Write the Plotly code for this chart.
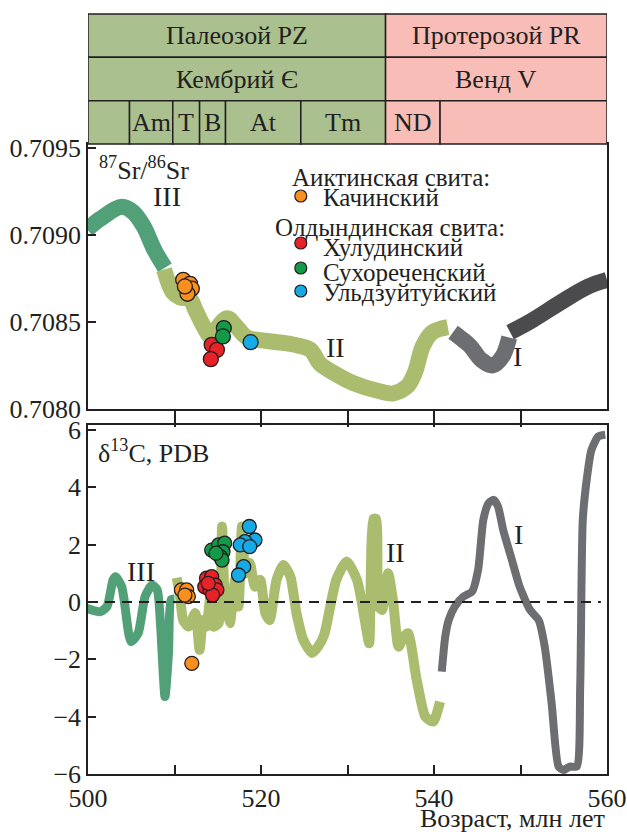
import plotly.graph_objects as go

# ---------------- data ----------------
# Sr isotope curves (age, Ma ; 87Sr/86Sr)
sr_III_age = [499.9, 501.4, 503.9, 505.2, 506.4, 507.7, 508.9]
sr_III_val = [0.70903, 0.70909, 0.70916, 0.70913, 0.70905, 0.70891, 0.70881]

sr_II_age = [508.8, 509.8, 510.6, 511.8, 512.4, 513.3, 514.3, 515.0, 516.1, 517.2, 518.4,
             520.7, 523.7, 525.7, 526.8, 528.3, 530.6, 533.8, 535.3, 536.9, 537.8, 538.7,
             539.8, 541.6]
sr_II_val = [0.70880, 0.70867, 0.70864, 0.70863, 0.70857, 0.70848, 0.70841, 0.70847, 0.70852,
             0.70847, 0.70841, 0.70839, 0.70837, 0.70834, 0.70826, 0.70821, 0.70815, 0.70810,
             0.70809, 0.70813, 0.70821, 0.70836, 0.70844, 0.70847]

sr_Ia_age = [542.2, 543.0, 544.2, 545.5, 546.8, 547.9, 548.7]
sr_Ia_val = [0.70844, 0.70841, 0.70836, 0.70828, 0.70825, 0.70830, 0.70841]

sr_Ib_age = [548.8, 551.4, 554.6, 557.7, 560.0]
sr_Ib_val = [0.70844, 0.70851, 0.70861, 0.70870, 0.70874]

# Sr samples
sr_kach_age = [511.0, 511.8, 512.0, 511.5, 511.2]
sr_kach_val = [0.708741, 0.708718, 0.708690, 0.708661, 0.708703]
sr_khul_age = [514.3, 514.9, 514.2]
sr_khul_val = [0.708368, 0.708339, 0.708286]
sr_sukh_age = [515.7, 515.6]
sr_sukh_val = [0.708464, 0.708416]
sr_uldz_age = [518.8]
sr_uldz_val = [0.708383]

# Carbon isotope curves (age, Ma ; d13C permil PDB)
c_III_age = [499.85, 501.4, 502.2, 502.9, 503.2, 503.9, 504.7, 505.0, 505.8, 506.6, 507.4,
             508.0, 508.4, 508.9, 509.3, 509.6, 510.0]
c_III_val = [-0.22, -0.34, -0.16, 0.77, 0.88, 0.53, -1.09, -1.38, -1.09, 0.19, 0.59,
             0.42, -0.86, -3.30, -1.79, 0.07, 0.1]

c_II_age = [510.25, 510.6, 511.0, 511.6, 512.4, 512.9, 513.3, 513.7, 514.1, 514.5, 515.1,
            515.5, 515.8, 516.4, 517.0, 517.4, 517.8, 518.2, 518.7, 519.3, 519.9, 520.5,
            521.0, 521.8, 522.6, 523.4, 524.1, 524.9, 525.9, 526.6, 527.3, 528.7, 529.9,
            531.1, 532.0, 532.5, 533.0, 533.3, 533.6, 534.0, 534.7, 535.3, 535.9, 536.5,
            537.0, 538.0, 539.0, 539.9, 540.7]
c_II_val = [0.84, 0.3, -0.63, -0.86, -0.39, -1.67, -0.63, -0.86, 0.07, -0.86, -0.74,
            2.63, 0.19, -0.74, 0.77, -0.16, 2.63, 1.0, 1.36, 0.53, 0.77, -0.39,
            -0.63, 0.77, 1.29, 0.88, -0.39, -1.33, -1.78, -1.56, -1.15, 0.77, 1.41,
            0.77, -0.63, -1.44, 2.9, 2.9, -0.16, -0.28, 1.0, -0.05, -1.56, -1.21,
            -1.09, -2.72, -4.0, -4.17, -3.48]

c_I_age = [540.9, 541.3, 541.7, 542.4, 543.4, 544.4, 545.1, 545.7, 546.3, 546.9, 547.4,
           548.0, 549.0, 549.9, 551.1, 552.1, 552.8, 553.6, 554.4, 555.0, 555.7, 556.5,
           556.9, 557.2, 557.7, 558.2, 559.0, 559.8]
c_I_val = [-2.43, -1.21, -0.63, -0.16, 0.19, 0.36, 1.12, 2.86, 3.44, 3.56, 3.33,
           2.51, 1.47, 0.53, -0.28, -0.63, -1.56, -3.53, -5.74, -5.86, -5.74, -5.74,
           -2.95, 2.86, 4.37, 5.30, 5.77, 5.83]

# Carbon samples
c_kach_age = [510.8, 511.4, 511.6, 511.2, 512.0]
c_kach_val = [0.42, 0.42, 0.19, 0.24, -2.14]
c_khul_age = [513.7, 514.3, 513.5, 514.7, 514.1, 514.9, 514.4, 513.9]
c_khul_val = [0.83, 0.88, 0.53, 0.59, 0.42, 0.42, 0.24, 0.65]
c_sukh_age = [514.3, 515.1, 515.8, 515.6, 515.3, 515.5, 514.8]
c_sukh_val = [1.81, 1.99, 2.05, 1.75, 1.58, 1.46, 1.70]
c_uldz_age = [518.65, 519.3, 518.15, 517.6, 518.7, 518.0, 517.4]
c_uldz_val = [2.63, 2.16, 2.10, 1.99, 1.93, 1.23, 0.94]

# Stratigraphic header
eon_labels = ['Палеозой PZ', 'Протерозой PR']
period_labels = ['Кембрий Є', 'Венд V']
major_bounds = [500, 534.4, 560]
stage_labels = ['', 'Am', 'T', 'B', 'At', 'Tm', 'ND', '']
stage_bounds = [500, 504.8, 509.8, 512.9, 515.9, 524.6, 534.4, 540.7, 560]

sr_ticks = [0.7080, 0.7085, 0.7090, 0.7095]
c_ticks = [-6, -4, -2, 0, 2, 4, 6]
age_ticks = [500, 510, 520, 530, 540, 550, 560]
age_ticklabels = ['500', '', '520', '', '540', '', '560']

# ---------------- styles ----------------
FONT = 'Liberation Serif'
INK = '#231f20'
DKGREEN = '#52a078'
LTGREEN = '#aabd6e'
MGRAY = '#6d6e71'
DGRAY = '#4b4b4d'
PZ_FILL = '#aac08f'
PR_FILL = '#f8bdb6'
ORANGE = '#f7901e'
RED = '#e82229'
GREEN = '#139a48'
BLUE = '#16aae7'

fig = go.Figure()

def band(x, y, color, width, xa, ya, smooth=1.0):
    fig.add_trace(go.Scatter(x=x, y=y, mode='lines', xaxis=xa, yaxis=ya,
                             line=dict(color=color, width=width, shape='spline', smoothing=smooth),
                             showlegend=False, hoverinfo='skip'))

def pts(x, y, color, size, xa, ya, name):
    fig.add_trace(go.Scatter(x=x, y=y, mode='markers', xaxis=xa, yaxis=ya, name=name,
                             marker=dict(color=color, size=size, line=dict(color=INK, width=1.3)),
                             showlegend=False))

# top panel (Sr)
band(sr_III_age, sr_III_val, DKGREEN, 16, 'x', 'y')
band(sr_II_age, sr_II_val, LTGREEN, 16, 'x', 'y')
band(sr_Ia_age, sr_Ia_val, MGRAY, 16, 'x', 'y')
band(sr_Ib_age, sr_Ib_val, DGRAY, 16, 'x', 'y')
pts(sr_kach_age, sr_kach_val, ORANGE, 15, 'x', 'y', 'Качинский')
pts(sr_khul_age, sr_khul_val, RED, 15, 'x', 'y', 'Хулудинский')
pts(sr_sukh_age, sr_sukh_val, GREEN, 15, 'x', 'y', 'Сухореченский')
pts(sr_uldz_age, sr_uldz_val, BLUE, 15, 'x', 'y', 'Ульдзуйтуйский')

# bottom panel (d13C)
band(c_III_age, c_III_val, DKGREEN, 9, 'x2', 'y2', 0.6)
band(c_II_age, c_II_val, LTGREEN, 10, 'x2', 'y2', 0.6)
band(c_I_age, c_I_val, MGRAY, 8, 'x2', 'y2', 0.6)
pts(c_kach_age, c_kach_val, ORANGE, 14, 'x2', 'y2', 'Качинский')
pts(c_khul_age, c_khul_val, RED, 14, 'x2', 'y2', 'Хулудинский')
pts(c_sukh_age, c_sukh_val, GREEN, 14, 'x2', 'y2', 'Сухореченский')
pts(c_uldz_age, c_uldz_val, BLUE, 14, 'x2', 'y2', 'Ульдзуйтуйский')

shapes = []
annotations = []

# zero line
shapes.append(dict(type='line', xref='x2', yref='y2', x0=500, x1=559.3, y0=0, y1=0,
                   line=dict(color=INK, width=2, dash='10px,7px'), layer='above'))

# header
row_y = [1.0, 0.9430, 0.8859, 0.8289]
def cell(x0, x1, r, fill, text):
    shapes.append(dict(type='rect', xref='x', yref='paper', x0=x0, x1=x1,
                       y0=row_y[r + 1], y1=row_y[r], fillcolor=fill,
                       line=dict(color=INK, width=1.5), layer='above'))
    if text:
        annotations.append(dict(x=(x0 + x1) / 2, y=(row_y[r] + row_y[r + 1]) / 2,
                                xref='x', yref='paper', text=text, showarrow=False,
                                font=dict(family=FONT, size=26, color=INK),
                                xanchor='center', yanchor='middle'))

for i in range(2):
    fill = PZ_FILL if i == 0 else PR_FILL
    cell(major_bounds[i], major_bounds[i + 1], 0, fill, eon_labels[i])
    cell(major_bounds[i], major_bounds[i + 1], 1, fill, period_labels[i])
for i, lab in enumerate(stage_labels):
    fill = PZ_FILL if stage_bounds[i] < major_bounds[1] else PR_FILL
    cell(stage_bounds[i], stage_bounds[i + 1], 2, fill, lab)

def txt(x, y, s, xref, yref, size=26, xanchor='center'):
    annotations.append(dict(x=x, y=y, xref=xref, yref=yref, text=s, showarrow=False,
                            font=dict(family=FONT, size=size, color=INK),
                            xanchor=xanchor, yanchor='middle'))

# panel titles
txt(0.017, 0.797, '<sup>87</sup>Sr/<sup>86</sup>Sr', 'paper', 'paper', 26, 'left')
txt(0.015, 0.424, 'δ<sup>13</sup>C, PDB', 'paper', 'paper', 26, 'left')

# roman numerals
txt(509.1, 0.709218, 'III', 'x', 'y', 28)
txt(528.6, 0.708351, 'II', 'x', 'y', 28)
txt(549.7, 0.708299, 'I', 'x', 'y', 28)
txt(506.1, 1.05, 'III', 'x2', 'y2', 28)
txt(535.6, 1.74, 'II', 'x2', 'y2', 28)
txt(549.8, 2.34, 'I', 'x2', 'y2', 28)

# legend (manual)
txt(0.584, 0.7855, 'Аиктинская свита:', 'paper', 'paper', 25)
txt(0.582, 0.7197, 'Олдындинская свита:', 'paper', 'paper', 25)
leg_items = [('Качинский', ORANGE, 0.7605, 0.7579),
             ('Хулудинский', RED, 0.6987, 0.6934),
             ('Сухореченский', GREEN, 0.6658, 0.6605),
             ('Ульдзуйтуйский', BLUE, 0.6355, 0.6329)]
for name, col, ym, yt in leg_items:
    shapes.append(dict(type='circle', xref='paper', yref='paper', xsizemode='pixel',
                       ysizemode='pixel', xanchor=0.410, yanchor=ym,
                       x0=-6, x1=6, y0=-6, y1=6, fillcolor=col,
                       line=dict(color=INK, width=1.2)))
    txt(0.449, yt, name, 'paper', 'paper', 25, 'left')

# axis title
txt(1.0, -0.058, 'Возраст, млн лет', 'paper', 'paper', 26, 'right')

tickfont = dict(family=FONT, size=26, color=INK)

fig.update_layout(
    template='none',
    width=627, height=834,
    margin=dict(l=88, r=20, t=14, b=60, pad=0),
    paper_bgcolor='white', plot_bgcolor='white',
    showlegend=False,
    shapes=shapes, annotations=annotations,
    xaxis=dict(domain=[0, 1], range=[500, 560], anchor='y', automargin=False,
               tickvals=age_ticks[1:-1], showticklabels=False,
               ticks='outside', ticklen=16, tickwidth=1.5, tickcolor=INK,
               showline=True, linecolor=INK, linewidth=1.5, mirror=True,
               showgrid=False, zeroline=False),
    yaxis=dict(domain=[0.4803, 0.8289], range=[0.7080, 0.70952], anchor='x', automargin=False,
               tickvals=sr_ticks, ticktext=['%.4f' % v for v in sr_ticks],
               ticks='inside', ticklen=8, tickwidth=1.5, tickcolor=INK, tickfont=tickfont,
               showline=True, linecolor=INK, linewidth=1.5, mirror=True,
               showgrid=False, zeroline=False),
    xaxis2=dict(domain=[0, 1], range=[500, 560], anchor='y2', automargin=False,
                tickvals=age_ticks, ticktext=age_ticklabels,
                ticks='inside', ticklen=9, tickwidth=1.5, tickcolor=INK, tickfont=tickfont,
                showline=True, linecolor=INK, linewidth=1.5, mirror=True,
                showgrid=False, zeroline=False),
    yaxis2=dict(domain=[0, 0.4592], range=[-6, 6.17], anchor='x2', automargin=False,
                tickvals=c_ticks,
                ticktext=[('−%d' % abs(v)) if v < 0 else str(v) for v in c_ticks],
                ticks='inside', ticklen=8, tickwidth=1.5, tickcolor=INK, tickfont=tickfont,
                showline=True, linecolor=INK, linewidth=1.5, mirror=True,
                showgrid=False, zeroline=False),
)

pin = ("document.body.style.margin='0px';"
       "var d=document.getElementById('{plot_id}');"
       "d.style.position='absolute';d.style.left='0px';d.style.top='0px';")
fig.write_html('out.html', post_script=pin, config={'displayModeBar': False})
